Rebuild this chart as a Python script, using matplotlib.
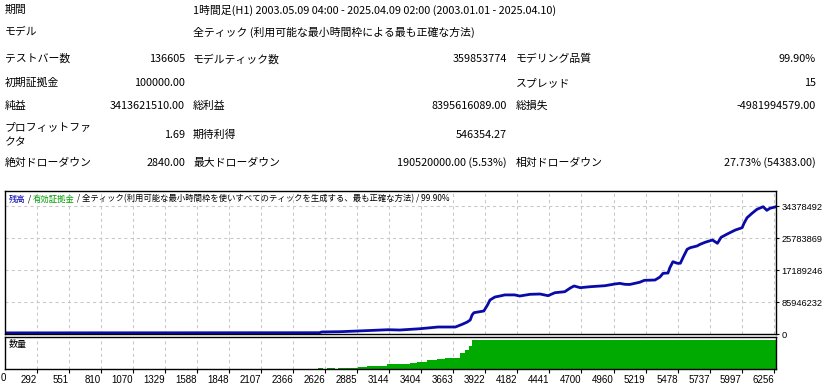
import matplotlib
matplotlib.use("Agg")
import matplotlib.pyplot as plt
import matplotlib.transforms as mtransforms

plt.rcParams['font.family'] = ['Noto Sans CJK JP', 'DejaVu Sans']

# report table (label, value) rows, three column pairs
row_period = ("期間", "1時間足(H1) 2003.05.09 04:00 - 2025.04.09 02:00 (2003.01.01 - 2025.04.10)")
row_model = ("モデル", "全ティック (利用可能な最小時間枠による最も正確な方法)")
report_rows = [
    [("テストバー数", "136605"), ("モデルティック数", "359853774"), ("モデリング品質", "99.90%")],
    [("初期証拠金", "100000.00"), ("", ""), ("スプレッド", "15")],
    [("純益", "3413621510.00"), ("総利益", "8395616089.00"), ("総損失", "-4981994579.00")],
    [("プロフィットファ\nクタ", "1.69"), ("期待利得", "546354.27"), ("", "")],
    [("絶対ドローダウン", "2840.00"), ("最大ドローダウン", "190520000.00 (5.53%)"), ("相対ドローダウン", "27.73% (54383.00)")],
]

# balance curve (trade number, balance in axis label units)
trade_no = [0, 2580, 2600, 2750, 2950, 3135, 3230, 3395, 3540, 3680, 3735, 3775, 3800,
            3815, 3830, 3910, 3940, 3960, 4000, 4040, 4080, 4160, 4200, 4285, 4365, 4430,
            4485, 4565, 4610, 4640, 4690, 4770, 4890, 4970, 5010, 5050, 5090, 5170, 5210,
            5295, 5335, 5360, 5400, 5415, 5440, 5475, 5500, 5525, 5555, 5580, 5635, 5660,
            5700, 5760, 5800, 5830, 5880, 5945, 6000, 6015, 6040, 6080, 6120, 6170, 6200,
            6225, 6274]
balance = [0.30, 0.35, 0.55, 0.62, 0.89, 1.15, 1.07, 1.42, 1.88, 1.88, 2.6, 3.2, 3.76,
           5.1, 5.72, 6.18, 7.8, 9.13, 9.94, 10.2, 10.5, 10.5, 10.2, 10.66, 10.74, 10.29,
           11.09, 11.36, 12.36, 12.9, 12.44, 12.7, 12.97, 13.43, 13.6, 13.35, 13.3, 13.89,
           14.42, 14.5, 15.3, 16.3, 16.38, 17.8, 19.42, 19.0, 19.0, 20.76, 22.75, 23.18,
           23.64, 24.09, 24.63, 25.25, 24.36, 25.97, 26.86, 27.93, 28.55, 29.73, 31.24,
           32.42, 33.49, 34.19, 33.22, 33.76, 34.19]
balance = [b * 1e6 for b in balance]

# lot size panel (relative)
lot_no = [0, 2570, 2610, 2645, 2710, 2730, 2895, 2965, 3130, 3315, 3370, 3450, 3530,
          3595, 3720, 3760, 3790, 3815, 6274]
lots = [0, 2.4, 0, 3.4, 0, 3.4, 6.9, 11.4, 16, 20.7, 25, 30, 34.5, 39, 54, 65.5, 79, 100, 100]

x_ticks = [292, 551, 810, 1070, 1329, 1588, 1848, 2107, 2366, 2626, 2885, 3144, 3404,
           3663, 3922, 4182, 4441, 4700, 4960, 5219, 5478, 5737, 5997, 6256]
y_ticks = [0, 8594623, 17189246, 25783869, 34378492]
y_labels = ["0", "85946232", "17189246", "25783869", "34378492"]

W, H = 828, 389
fig = plt.figure(figsize=(W / 100, H / 100), dpi=100)
fig.patch.set_facecolor("white")


def px(x, y):
    return x / W, 1 - y / H


# header table
fs = 7.8
for (lab, val), y in [(row_period, 10), (row_model, 32)]:
    fig.text(*px(5, y), lab, fontsize=fs, va="center")
    fig.text(*px(193, y), val, fontsize=fs, va="center")
row_y = [59, 83, 106, 135, 163]
col_lab = [5, 193, 516]
col_val = [185, 507, 816]
for cells, y in zip(report_rows, row_y):
    for (lab, val), xl, xv in zip(cells, col_lab, col_val):
        if lab:
            fig.text(*px(xl, y), lab, fontsize=fs, va="center", linespacing=1.6)
        if val:
            fig.text(*px(xv, y), val, fontsize=fs, va="center", ha="right")

# chart panels
x0, x1 = 5, 776
ax = fig.add_axes([x0 / W, 1 - 334 / H, (x1 - x0) / W, (334 - 191) / H])
ax2 = fig.add_axes([x0 / W, 1 - 369 / H, (x1 - x0) / W, (369 - 337) / H])
xlim = (36, 6274)
grid_kw = dict(color="#C8C8C8", linestyle=(0, (3, 3)), linewidth=0.75)

ax.plot(trade_no, balance, color="#0A0AA8", linewidth=2.0)
ax.set_xlim(*xlim)
ax.set_ylim(0, 38.41e6)
ax.set_xticks(x_ticks)
ax.set_yticks(y_ticks)
ax.set_yticklabels(y_labels)
ax.tick_params(axis="x", bottom=False, labelbottom=False)
ax.tick_params(axis="y", left=False, labelleft=False, right=True, labelright=True,
               direction="out", length=2, labelsize=6.7, pad=2)
for lbl in ax.get_yticklabels():
    lbl.set_family(["Liberation Sans", "DejaVu Sans"])
ax.grid(True, **grid_kw)
ax.set_axisbelow(True)

t = ax.text(4 / (x1 - x0), 1 - 8 / 143, "残高", transform=ax.transAxes, fontsize=6,
            color="#0000B0", va="center")
for txt, col in [(" / ", "black"), ("有効証拠金", "#00A000"),
                 (" / 全ティック(利用可能な最小時間枠を使いすべてのティックを生成する、最も正確な方法) / 99.90%", "black")]:
    t = ax.annotate(txt, xy=(1, 0.5), xycoords=t, va="center", fontsize=6, color=col)

ax2.fill_between(lot_no, lots, step="post", color="#00AA00", linewidth=0)
ax2.set_xlim(*xlim)
ax2.set_ylim(0, 110)
ax2.set_xticks(x_ticks)
ax2.set_xticklabels([str(v) for v in x_ticks])
ax2.set_yticks([])
ax2.tick_params(axis="x", direction="out", length=3, labelsize=7, pad=1)
for lbl in ax2.get_xticklabels():
    lbl.set_horizontalalignment("right")
    lbl.set_family(["Liberation Sans", "DejaVu Sans"])
ax2.grid(True, axis="x", **grid_kw)
ax2.set_axisbelow(True)
ax2.text(0, -0.12, "0", transform=mtransforms.blended_transform_factory(ax2.transData, ax2.transAxes),
         ha="left", va="top", fontsize=7, family=["Liberation Sans", "DejaVu Sans"], clip_on=False)
ax2.text(4 / (x1 - x0), 1 - 7 / 32, "数量", transform=ax2.transAxes, fontsize=6.5, va="center")

for a in (ax, ax2):
    for s in a.spines.values():
        s.set_color("black")
        s.set_linewidth(1.0)

fig.savefig("out.png", dpi=100)
